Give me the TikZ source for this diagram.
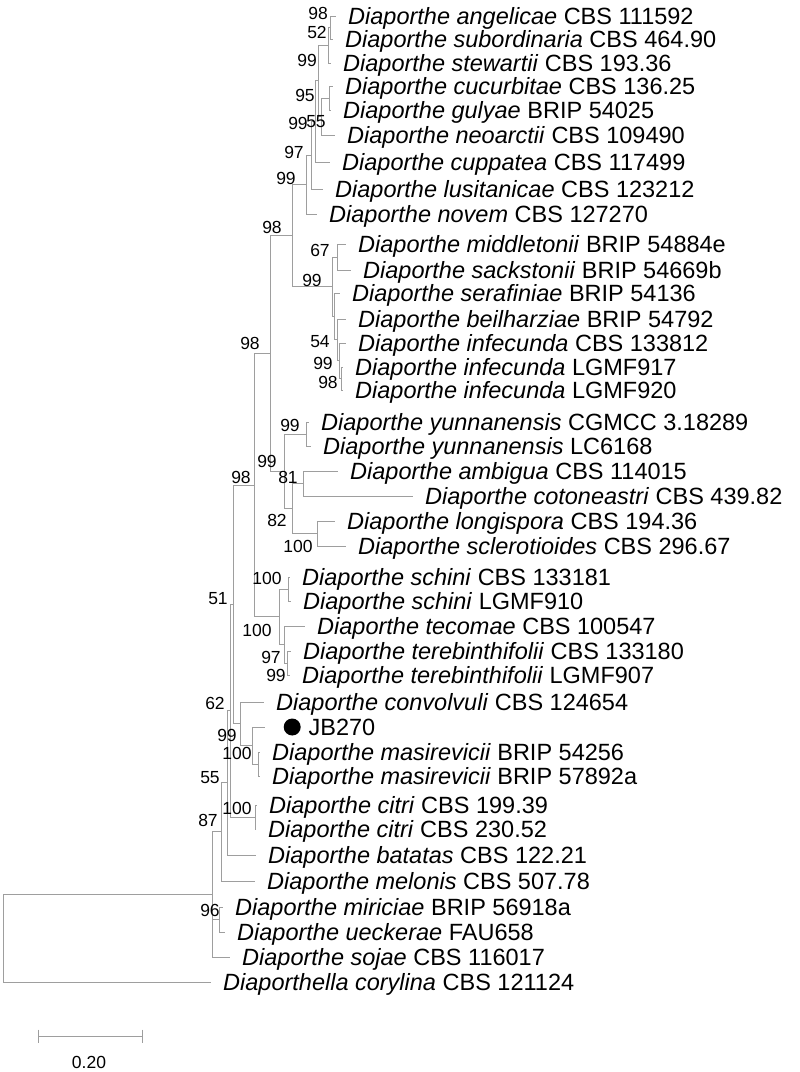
\documentclass[tikz,border=0pt]{standalone}
\usepackage{fontspec}
\setmainfont{Liberation Sans}
\usetikzlibrary{positioning}

\definecolor{treegray}{gray}{0.62}
\newcommand{\dsp}[2]{\textit{Diaporthe #1} #2}

\tikzset{
  leaf/.style={anchor=west, inner sep=0pt, text height=16.8pt, text depth=0pt,
    font=\fontsize{23.5}{26}\selectfont},
  boot/.style={inner sep=0pt, font=\fontsize{17.5}{20}\selectfont},
  jbdot/.style={circle, fill=black, inner sep=0pt, minimum size=17pt},
}

\begin{document}
\begin{tikzpicture}[x=1pt, y=-1pt,
    every edge/.style={draw=treegray, line width=1pt, to path={|- (\tikztotarget)}}]
	\useasboundingbox (0,0) rectangle (800,1072);

	% tips and taxa
	\coordinate (ang) at (336,16);  \node[leaf, right=12pt of ang] (angT) {\dsp{angelicae}{CBS 111592}};
	\coordinate (sub) at (333,39);  \node[leaf, right=12pt of sub] (subT) {\dsp{subordinaria}{CBS 464.90}};
	\coordinate (ste) at (331,63);  \node[leaf, right=12pt of ste] (steT) {\dsp{stewartii}{CBS 193.36}};
	\coordinate (cuc) at (333,86);  \node[leaf, right=12pt of cuc] (cucT) {\dsp{cucurbitae}{CBS 136.25}};
	\coordinate (gul) at (331,110); \node[leaf, right=12pt of gul] (gulT) {\dsp{gulyae}{BRIP 54025}};
	\coordinate (neo) at (335,135); \node[leaf, right=12pt of neo] (neoT) {\dsp{neoarctii}{CBS 109490}};
	\coordinate (cup) at (330,162); \node[leaf, right=12pt of cup] (cupT) {\dsp{cuppatea}{CBS 117499}};
	\coordinate (lus) at (323,189); \node[leaf, right=12pt of lus] (lusT) {\dsp{lusitanicae}{CBS 123212}};
	\coordinate (nov) at (317,214); \node[leaf, right=12pt of nov] (novT) {\dsp{novem}{CBS 127270}};
	\coordinate (mid) at (346,244); \node[leaf, right=12pt of mid] (midT) {\dsp{middletonii}{BRIP 54884e}};
	\coordinate (sac) at (351,270); \node[leaf, right=12pt of sac] (sacT) {\dsp{sackstonii}{BRIP 54669b}};
	\coordinate (ser) at (340,293); \node[leaf, right=12pt of ser] (serT) {\dsp{serafiniae}{BRIP 54136}};
	\coordinate (bei) at (346,319); \node[leaf, right=12pt of bei] (beiT) {\dsp{beilharziae}{BRIP 54792}};
	\coordinate (ifa) at (346,343); \node[leaf, right=12pt of ifa] (ifaT) {\dsp{infecunda}{CBS 133812}};
	\coordinate (ifb) at (343,367); \node[leaf, right=12pt of ifb] (ifbT) {\dsp{infecunda}{LGMF917}};
	\coordinate (ifc) at (343,390); \node[leaf, right=12pt of ifc] (ifcT) {\dsp{infecunda}{LGMF920}};
	\coordinate (yua) at (309,422); \node[leaf, right=12pt of yua] (yuaT) {\dsp{yunnanensis}{CGMCC 3.18289}};
	\coordinate (yub) at (311,446); \node[leaf, right=12pt of yub] (yubT) {\dsp{yunnanensis}{LC6168}};
	\coordinate (amb) at (338,471); \node[leaf, right=12pt of amb] (ambT) {\dsp{ambigua}{CBS 114015}};
	\coordinate (cot) at (413,496); \node[leaf, right=12pt of cot] (cotT) {\dsp{cotoneastri}{CBS 439.82}};
	\coordinate (lon) at (335,521); \node[leaf, right=12pt of lon] (lonT) {\dsp{longispora}{CBS 194.36}};
	\coordinate (scl) at (346,546); \node[leaf, right=12pt of scl] (sclT) {\dsp{sclerotioides}{CBS 296.67}};
	\coordinate (sca) at (290,577); \node[leaf, right=12pt of sca] (scaT) {\dsp{schini}{CBS 133181}};
	\coordinate (scb) at (291,601); \node[leaf, right=12pt of scb] (scbT) {\dsp{schini}{LGMF910}};
	\coordinate (tec) at (305,626); \node[leaf, right=12pt of tec] (tecT) {\dsp{tecomae}{CBS 100547}};
	\coordinate (tea) at (291,651); \node[leaf, right=12pt of tea] (teaT) {\dsp{terebinthifolii}{CBS 133180}};
	\coordinate (teb) at (290,675); \node[leaf, right=12pt of teb] (tebT) {\dsp{terebinthifolii}{LGMF907}};
	\coordinate (con) at (264,702); \node[leaf, right=12pt of con] (conT) {\dsp{convolvuli}{CBS 124654}};
	\coordinate (jb)  at (265,727); \node[jbdot, right=18.5pt of jb] (jbD) {};
	                                \node[leaf, right=7.5pt of jbD] (jbT) {JB270};
	\coordinate (maa) at (260,752); \node[leaf, right=12pt of maa] (maaT) {\dsp{masirevicii}{BRIP 54256}};
	\coordinate (mab) at (260,776); \node[leaf, right=12pt of mab] (mabT) {\dsp{masirevicii}{BRIP 57892a}};
	\coordinate (cia) at (257,805); \node[leaf, right=12pt of cia] (ciaT) {\dsp{citri}{CBS 199.39}};
	\coordinate (cib) at (256,829); \node[leaf, right=12pt of cib] (cibT) {\dsp{citri}{CBS 230.52}};
	\coordinate (bat) at (256,855); \node[leaf, right=12pt of bat] (batT) {\dsp{batatas}{CBS 122.21}};
	\coordinate (mel) at (255,881); \node[leaf, right=12pt of mel] (melT) {\dsp{melonis}{CBS 507.78}};
	\coordinate (mir) at (223,907); \node[leaf, right=12pt of mir] (mirT) {\dsp{miriciae}{BRIP 56918a}};
	\coordinate (uec) at (225,932); \node[leaf, right=12pt of uec] (uecT) {\dsp{ueckerae}{FAU658}};
	\coordinate (soj) at (230,957); \node[leaf, right=12pt of soj] (sojT) {\dsp{sojae}{CBS 116017}};
	\coordinate (dia) at (211,982); \node[leaf, right=12pt of dia] (diaT) {\textit{Diaporthella corylina} CBS 121124};

	% inner nodes
	\coordinate (T1)   at (330,27.5);
	\coordinate (T1b)  at (328,45.25);
	\coordinate (Tcg)  at (329,98);
	\coordinate (Tcgn) at (321,116.5);
	\coordinate (T3)   at (318,80.9);
	\coordinate (T5)   at (315,121.45);
	\coordinate (T6)   at (311,155.2);
	\coordinate (T7)   at (306,184.6);
	\coordinate (ms)   at (337,257);
	\coordinate (ip)   at (341,378.5);
	\coordinate (i3)   at (339,360.75);
	\coordinate (n54)  at (337,339.9);
	\coordinate (S)    at (334,316.4);
	\coordinate (M99)  at (332,286.7);
	\coordinate (N98a) at (292,235.65);
	\coordinate (yun)  at (306,434);
	\coordinate (ambp) at (303,483.5);
	\coordinate (lonp) at (317,533.5);
	\coordinate (N82)  at (292,508.5);
	\coordinate (Y99)  at (284,471.25);
	\coordinate (N270) at (270,353.45);
	\coordinate (scp)  at (288,589);
	\coordinate (tep)  at (287,663);
	\coordinate (tcn)  at (284,644.5);
	\coordinate (N100) at (279,616.75);
	\coordinate (N254) at (254,485.1);
	\coordinate (map)  at (258,764);
	\coordinate (jbn)  at (252,745.5);
	\coordinate (conn) at (240,723.75);
	\coordinate (N51)  at (233,604.4);
	\coordinate (cip)  at (255,817);
	\coordinate (N62)  at (230,710.7);
	\coordinate (N55)  at (227,782.85);
	\coordinate (N87)  at (221,831.9);
	\coordinate (n96)  at (219,919.5);
	\coordinate (A)    at (212,894.45);
	\coordinate (root) at (3,938.2);

	\path (T1)   edge (ang)  edge (sub)
	      (T1b)  edge (T1)   edge (ste)
	      (Tcg)  edge (cuc)  edge (gul)
	      (Tcgn) edge (Tcg)  edge (neo)
	      (T3)   edge (T1b)  edge (Tcgn)
	      (T5)   edge (T3)   edge (cup)
	      (T6)   edge (T5)   edge (lus)
	      (T7)   edge (T6)   edge (nov)
	      (ms)   edge (mid)  edge (sac)
	      (ip)   edge (ifb)  edge (ifc)
	      (i3)   edge (ifa)  edge (ip)
	      (n54)  edge (bei)  edge (i3)
	      (S)    edge (ser)  edge (n54)
	      (M99)  edge (ms)   edge (S)
	      (N98a) edge (T7)   edge (M99)
	      (yun)  edge (yua)  edge (yub)
	      (ambp) edge (amb)  edge (cot)
	      (lonp) edge (lon)  edge (scl)
	      (N82)  edge (ambp) edge (lonp)
	      (Y99)  edge (yun)  edge (N82)
	      (N270) edge (N98a) edge (Y99)
	      (scp)  edge (sca)  edge (scb)
	      (tep)  edge (tea)  edge (teb)
	      (tcn)  edge (tec)  edge (tep)
	      (N100) edge (scp)  edge (tcn)
	      (N254) edge (N270) edge (N100)
	      (map)  edge (maa)  edge (mab)
	      (jbn)  edge (jb)   edge (map)
	      (conn) edge (con)  edge (jbn)
	      (N51)  edge (N254) edge (conn)
	      (cip)  edge (cia)  edge (cib)
	      (N62)  edge (N51)  edge (cip)
	      (N55)  edge (N62)  edge (bat)
	      (N87)  edge (N55)  edge (mel)
	      (n96)  edge (mir)  edge (uec)
	      (A)    edge (N87)  edge (n96) edge (soj)
	      (root) edge (A)    edge (dia);

	% bootstrap values
	\node[boot] (b1)  at (318,13)  {98};
	\node[boot] (b2)  at (317,32)  {52};
	\node[boot] (b3)  at (307,60)  {99};
	\node[boot] (b4)  at (305,95)  {95};
	\node[boot] (b5)  at (298,123) {99};
	\node[boot] (b6)  at (316,122) {55};
	\node[boot] (b7)  at (294,152) {97};
	\node[boot] (b8)  at (286,178) {99};
	\node[boot] (b9)  at (272,227) {98};
	\node[boot] (b10) at (320,250) {67};
	\node[boot] (b11) at (312,280) {99};
	\node[boot] (b12) at (320,342) {54};
	\node[boot] (b13) at (323,363) {99};
	\node[boot] (b14) at (328,382) {98};
	\node[boot] (b15) at (250,343) {98};
	\node[boot] (b16) at (290,425) {99};
	\node[boot] (b17) at (267,461) {99};
	\node[boot] (b18) at (241,477) {98};
	\node[boot] (b19) at (288,477) {81};
	\node[boot] (b20) at (277,520) {82};
	\node[boot] (b21) at (298,546) {100};
	\node[boot] (b22) at (267,578) {100};
	\node[boot] (b23) at (218,599) {51};
	\node[boot] (b24) at (257,630) {100};
	\node[boot] (b25) at (271,657) {97};
	\node[boot] (b26) at (276,675) {99};
	\node[boot] (b27) at (215,703) {62};
	\node[boot] (b28) at (227,735) {99};
	\node[boot] (b29) at (237,753) {100};
	\node[boot] (b30) at (210,778) {55};
	\node[boot] (b31) at (237,808) {100};
	\node[boot] (b32) at (208,820) {87};
	\node[boot] (b33) at (210,910) {96};

	% scale bar
	\coordinate (s1) at (38,1036);
	\coordinate (s2) at (142,1036);
	\draw[treegray, line width=1pt] (s1) -- (s2);
	\draw[treegray, line width=1pt] ([yshift=6.5pt]s1) -- ([yshift=-6.5pt]s1);
	\draw[treegray, line width=1pt] ([yshift=6.5pt]s2) -- ([yshift=-6.5pt]s2);
	\node[boot] (scale) at (89,1062) {0.20};
\end{tikzpicture}
\end{document}
